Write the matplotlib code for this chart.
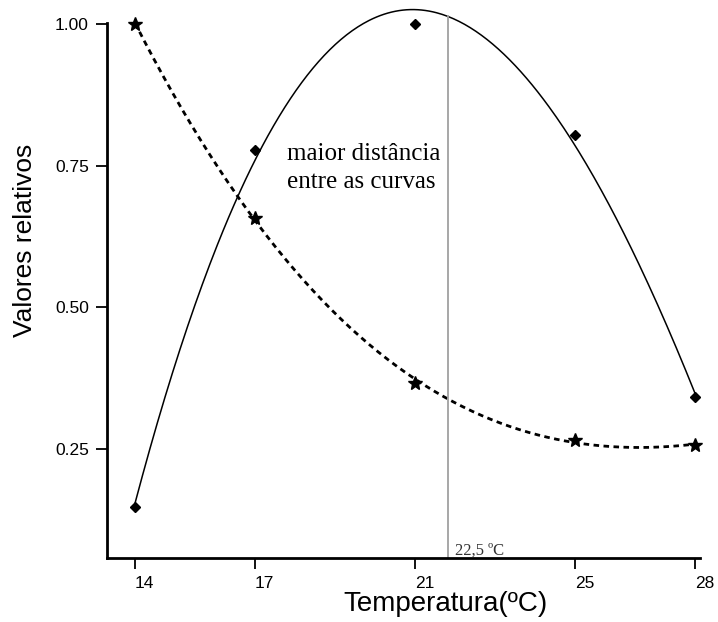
import numpy as np
import matplotlib
matplotlib.use('Agg')
import matplotlib.pyplot as plt

# data
temps = [14, 17, 21, 25, 28]
diamonds = [0.148, 0.778, 1.00, 0.804, 0.342]
stars = [1.00, 0.658, 0.367, 0.266, 0.257]
xticks = [14, 17, 21, 25, 28]
yticks = [0.25, 0.50, 0.75, 1.00]
yticklabels = ['0.25', '0.50', '0.75', '1.00']
max_dist_x = 21.825

plt.rcParams['font.family'] = ['Liberation Sans', 'DejaVu Sans']

fig = plt.figure(figsize=(7.18, 6.22), dpi=100)
ax = fig.add_axes([0.149, 0.1029, 0.826, 0.8606])

# polynomial trend curves
xs = np.linspace(min(temps), max(temps), 300)
p_d = np.polyfit(temps, diamonds, 3)
p_s = np.polyfit(temps, stars, 3)

ax.plot(xs, np.polyval(p_d, xs), color='black', lw=1.1, clip_on=False)
ax.plot(xs, np.polyval(p_s, xs), color='black', lw=2, linestyle=(0, (2, 1.6)))
ax.plot(temps, diamonds, linestyle='none', marker='D', color='black', markersize=5.5, clip_on=False)
ax.plot(temps, stars, linestyle='none', marker='*', color='black', markersize=10, clip_on=False)

# vertical line at the largest distance between curves
ax.plot([max_dist_x, max_dist_x], [0.0577, np.polyval(p_d, max_dist_x)],
        color='#a0a0a0', lw=1.3, clip_on=False)
ax.text(max_dist_x + 0.17, 0.063, '22,5 ºC', family='Liberation Serif', fontsize=12, color='#333333',
        va='baseline', ha='left')
ax.text(17.8, 0.789, 'maior distância\nentre as curvas', family='Liberation Serif', fontsize=18,
        va='top', ha='left', linespacing=1.3)

ax.set_xlim(13.3, 28.125)
ax.set_ylim(0.0577, 1.002)
ax.set_xticks(xticks)
ax.set_xticklabels([str(t) for t in xticks], ha='left')
ax.set_yticks(yticks)
ax.set_yticklabels(yticklabels)
ax.tick_params(direction='out', length=8, width=1.3, labelsize=12.5, colors='black', pad=5)
ax.spines['top'].set_visible(False)
ax.spines['right'].set_visible(False)
for s in ['left', 'bottom']:
    ax.spines[s].set_linewidth(2)

ax.set_xlabel('Temperatura(ºC)', fontsize=20)
ax.set_ylabel('Valores relativos', fontsize=19)
ax.xaxis.set_label_coords(0.57, -0.061)
ax.yaxis.set_label_coords(-0.118, 0.594)

fig.savefig('out.png', dpi=100)
